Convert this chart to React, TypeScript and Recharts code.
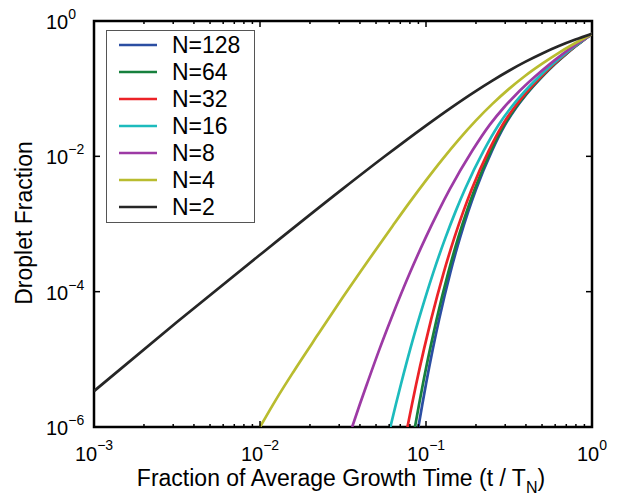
import { LineChart, Line, XAxis, YAxis, ReferenceArea, Legend } from 'recharts'

const FONT = '"Liberation Sans", Arial, Helvetica, sans-serif'
const PLOT_W = 498
const PLOT_H = 406

// [t / T_N, droplet fraction]
const N128 = [
  [0.09, 1e-6], [0.095, 2.15e-6], [0.1, 4.32e-6], [0.11, 1.44e-5], [0.12, 3.92e-5], [0.14, 1.9e-4],
  [0.16, 6.18e-4], [0.18, 1.55e-3], [0.2, 3.24e-3], [0.25, 0.01216], [0.3, 0.0294], [0.35, 0.0527],
  [0.4, 0.0808], [0.5, 0.1496], [0.6, 0.2328], [0.7, 0.3266], [0.8, 0.4276], [0.9, 0.5321], [1, 0.6457],
]
const N64 = [
  [0.0858, 1e-6], [0.0908, 2.15e-6], [0.0958, 4.32e-6], [0.1059, 1.44e-5], [0.1159, 3.92e-5],
  [0.136, 1.9e-4], [0.156, 6.18e-4], [0.1761, 1.55e-3], [0.1962, 3.24e-3], [0.2465, 0.01216],
  [0.2967, 0.0294], [0.3469, 0.0527], [0.3971, 0.0808], [0.4974, 0.1496], [0.5978, 0.2328],
  [0.6983, 0.3266], [0.7989, 0.4276], [0.8994, 0.5321], [1, 0.6457],
]
const N32 = [
  [0.0773, 1e-6], [0.0823, 2.15e-6], [0.0873, 4.32e-6], [0.0974, 1.44e-5], [0.1075, 3.92e-5],
  [0.1277, 1.9e-4], [0.1479, 6.18e-4], [0.1681, 1.55e-3], [0.1883, 3.24e-3], [0.239, 0.01216],
  [0.2897, 0.0294], [0.3402, 0.0527], [0.3906, 0.0808], [0.4918, 0.1496], [0.5931, 0.2328],
  [0.6945, 0.3266], [0.7963, 0.4276], [0.898, 0.5321], [1, 0.6457],
]
const N16 = [
  [0.061, 1e-6], [0.0658, 2.15e-6], [0.0707, 4.32e-6], [0.0805, 1.44e-5], [0.0905, 3.92e-5],
  [0.1105, 1.9e-4], [0.1307, 6.18e-4], [0.151, 1.55e-3], [0.1714, 3.24e-3], [0.2227, 0.01216],
  [0.2742, 0.0294], [0.3254, 0.0527], [0.3765, 0.0808], [0.4792, 0.1496], [0.5825, 0.2328],
  [0.6863, 0.3266], [0.7905, 0.4276], [0.895, 0.5321], [1, 0.6457],
]
const N8 = [
  [0.0359, 1e-6], [0.0399, 2.15e-6], [0.0441, 4.32e-6], [0.0526, 1.44e-5], [0.0615, 3.92e-5],
  [0.08, 1.9e-4], [0.0992, 6.18e-4], [0.1189, 1.55e-3], [0.1389, 3.24e-3], [0.1903, 0.01216],
  [0.2425, 0.0294], [0.2946, 0.0527], [0.3467, 0.0808], [0.4523, 0.1496], [0.5593, 0.2328],
  [0.6679, 0.3266], [0.7777, 0.4276], [0.888, 0.5321], [1, 0.6457],
]
const N4 = [
  [0.01, 1e-6], [0.01259, 2.63e-6], [0.01585, 6.46e-6], [0.02239, 2.34e-5], [0.03162, 8.32e-5],
  [0.04467, 2.84e-4], [0.0631, 9.44e-4], [0.0794, 2.07e-3], [0.1, 4.42e-3], [0.1259, 9.12e-3],
  [0.1585, 0.018], [0.1995, 0.0337], [0.2512, 0.0596], [0.3162, 0.0993], [0.3981, 0.1567],
  [0.5012, 0.2344], [0.631, 0.3388], [0.7943, 0.4732], [1, 0.6457],
]
const N2 = [
  [0.001, 3.39e-6], [0.003162, 3.56e-5], [0.01, 3.51e-4], [0.03162, 3.33e-3], [0.05623, 9.93e-3],
  [0.1, 0.0285], [0.1413, 0.0522], [0.1995, 0.0923], [0.2512, 0.1318], [0.3162, 0.1841],
  [0.3981, 0.2506], [0.5012, 0.3311], [0.631, 0.4256], [0.7943, 0.5309], [1, 0.6457],
]

const SERIES_NAMES = ['N=128', 'N=64', 'N=32', 'N=16', 'N=8', 'N=4', 'N=2']
const SERIES_COLORS = ['#2b4ea2', '#17803d', '#ec2227', '#1dbbbd', '#9d3aa5', '#b9bc2f', '#262626']
const SERIES_DATA = [N128, N64, N32, N16, N8, N4, N2]

const X_TICKS = [
  0.001, 0.002, 0.003, 0.004, 0.005, 0.006, 0.007, 0.008, 0.009,
  0.01, 0.02, 0.03, 0.04, 0.05, 0.06, 0.07, 0.08, 0.09,
  0.1, 0.2, 0.3, 0.4, 0.5, 0.6, 0.7, 0.8, 0.9, 1,
]
const Y_TICKS = [1e-6, 1e-4, 1e-2, 1]

const series = SERIES_NAMES.map((name, i) => ({
  name,
  color: SERIES_COLORS[i],
  data: SERIES_DATA[i].map(([x, y]) => ({ x, y })),
}))

const expLabel = (v: number) => {
  const e = Math.round(Math.log10(v))
  return e < 0 ? `\u2212${-e}` : `${e}`
}

const isMajor = (v: number) => Math.abs(Math.log10(v) - Math.round(Math.log10(v))) < 1e-9

function XTick(props: any) {
  const { x, y, payload } = props
  const v = payload.value
  const major = isMajor(v)
  const len = major ? 6 : 3
  return (
    <g>
      <line x1={x} x2={x} y1={y} y2={y - len} stroke="#000" strokeWidth={1.5} />
      <line x1={x} x2={x} y1={y - PLOT_H} y2={y - PLOT_H + len} stroke="#000" strokeWidth={1.5} />
      {major && (
        <text x={x} y={y + 34} textAnchor="middle" fontSize={20} fontFamily={FONT} fill="#000">
          10<tspan dy={-11} fontSize={14}>{expLabel(v)}</tspan>
        </text>
      )}
    </g>
  )
}

function YTick(props: any) {
  const { x, y, payload } = props
  return (
    <g>
      <line x1={x} x2={x + 6} y1={y} y2={y} stroke="#000" strokeWidth={1.5} />
      <line x1={x + PLOT_W} x2={x + PLOT_W - 6} y1={y} y2={y} stroke="#000" strokeWidth={1.5} />
      <text x={x - 48} y={y + 8} fontSize={20} fontFamily={FONT} fill="#000">
        10<tspan dy={-10} fontSize={14}>{expLabel(payload.value)}</tspan>
      </text>
    </g>
  )
}

const renderLegend = () => (
  <svg width={149} height={193} style={{ display: 'block' }}>
    <rect x={0.5} y={0.5} width={148} height={192} fill="#fff" stroke="#555" strokeWidth={1} />
    {series.map((s, i) => {
      const cy = 15 + i * 27
      return (
        <g key={s.name}>
          <line x1={13} x2={51} y1={cy} y2={cy} stroke={s.color} strokeWidth={2.7} />
          <text x={66} y={cy + 8} fontSize={23} fontFamily={FONT} fill="#000">{s.name}</text>
        </g>
      )
    })}
  </svg>
)

export default function App() {
  return (
    <div style={{ position: 'absolute', left: 0, top: 0, width: 617, height: 499, background: '#fff' }}>
      <LineChart width={617} height={499} margin={{ top: 21, right: 25, bottom: 0, left: 0 }}>
        <XAxis
          dataKey="x"
          type="number"
          scale="log"
          domain={[0.001, 1]}
          ticks={X_TICKS}
          interval={0}
          tick={XTick}
          tickLine={false}
          axisLine={false}
          tickSize={0}
          tickMargin={0}
          height={72}
          allowDataOverflow
          label={{
            content: () => (
              <text x={341} y={486} textAnchor="middle" fontSize={23} fontFamily={FONT} fill="#000">
                Fraction of Average Growth Time (t / T<tspan dy={7} fontSize={16}>N</tspan>
                <tspan dy={-7}>)</tspan>
              </text>
            ),
          }}
        />
        <YAxis
          dataKey="y"
          type="number"
          scale="log"
          domain={[1e-6, 1]}
          ticks={Y_TICKS}
          interval={0}
          tick={YTick}
          tickLine={false}
          axisLine={false}
          tickSize={0}
          tickMargin={0}
          width={94}
          allowDataOverflow
          label={{
            content: () => (
              <text
                x={32}
                y={223}
                transform="rotate(-90, 32, 223)"
                textAnchor="middle"
                fontSize={23}
                fontFamily={FONT}
                fill="#000"
              >
                Droplet Fraction
              </text>
            ),
          }}
        />
        {series.map((s) => (
          <Line
            key={s.name}
            data={s.data}
            dataKey="y"
            name={s.name}
            type="monotone"
            stroke={s.color}
            strokeWidth={2.7}
            dot={false}
            activeDot={false}
            isAnimationActive={false}
          />
        ))}
        <ReferenceArea x1={0.001} x2={1} y1={1e-6} y2={1} fill="none" stroke="#000" strokeWidth={2.5} />
        <Legend
          layout="vertical"
          align="center"
          verticalAlign="middle"
          content={renderLegend}
          wrapperStyle={{ left: 106, top: 30, width: 149, height: 193 }}
        />
      </LineChart>
    </div>
  )
}
